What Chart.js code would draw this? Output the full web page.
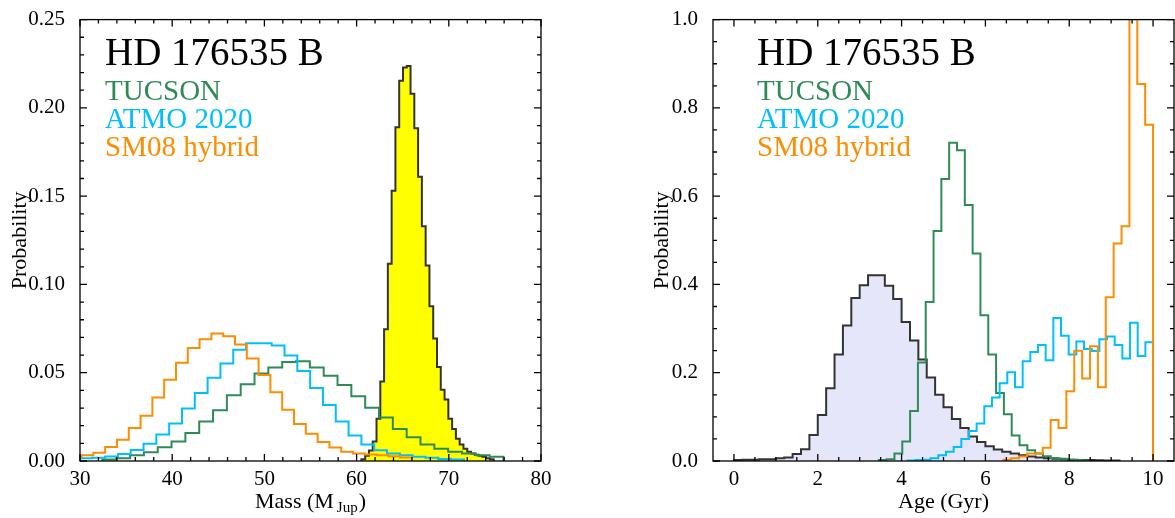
<!DOCTYPE html>
<html>
<head>
<meta charset="utf-8">
<script src="https://cdn.jsdelivr.net/npm/chart.js@4"></script>
<style>
  body { margin: 0; background: #fff; }
  canvas { position: absolute; top: 0; }
</style>
</head>
<body>
<canvas id="massChart" width="560" height="518" style="left:0"></canvas>
<canvas id="ageChart" width="555" height="518" style="left:620px"></canvas>
<script>
// labels
const objectName = "HD 176535 B";
const modelNames = ["TUCSON", "ATMO 2020", "SM08 hybrid"];
const modelColors = ["#2E8B57", "#00BFFF", "#FF8C00"];

// tick labels
const massTicks = [30, 40, 50, 60, 70, 80];
const massProbTicks = [0, 0.05, 0.1, 0.15, 0.2, 0.25];
const ageTicks = [0, 2, 4, 6, 8, 10];
const ageProbTicks = [0, 0.2, 0.4, 0.6, 0.8, 1.0];

// mass histograms (M_Jup): first bin edge, bin width, probabilities
const dynMassStart = 60.52, dynMassWidth = 0.41;
const dynMass = [0.001, 0.003, 0.006, 0.011, 0.024, 0.045, 0.0746, 0.1117, 0.153, 0.189,
  0.2154, 0.2228, 0.2237, 0.208, 0.1885, 0.161, 0.133, 0.1107, 0.0876, 0.0694,
  0.0533, 0.0404, 0.0348, 0.024, 0.0181, 0.0126, 0.0094, 0.007, 0.0052, 0.0043,
  0.0036, 0.003, 0.0024, 0.0015, 0.001];

const tucsonMassStart = 32.43, tucsonMassWidth = 1.5;
const tucsonMass = [0.0008, 0.0015, 0.0033, 0.005, 0.0078, 0.011, 0.0159, 0.0224, 0.0287, 0.0372,
  0.0435, 0.0496, 0.053, 0.0561, 0.0565, 0.053, 0.0483, 0.0431, 0.0367, 0.0302,
  0.0246, 0.0181, 0.0135, 0.0093, 0.007, 0.0052, 0.0043, 0.0033, 0.0024];

const atmoMassStart = 29.94, atmoMassWidth = 1.39;
const atmoMass = [0.0015, 0.0018, 0.0026, 0.0039, 0.0063, 0.0098, 0.015, 0.0213, 0.0298, 0.0385,
  0.0472, 0.0552, 0.063, 0.0667, 0.0667, 0.0654, 0.0598, 0.051, 0.0413, 0.0317,
  0.0224, 0.0144, 0.0094, 0.0061, 0.0043, 0.0033, 0.0024, 0.0019, 0.0012, 0.0008];

const sm08MassStart = 28.89, sm08MassWidth = 1.28;
const sm08Mass = [0.0022, 0.0033, 0.0047, 0.008, 0.012, 0.0187, 0.0256, 0.036, 0.046, 0.0557,
  0.064, 0.069, 0.0722, 0.0706, 0.066, 0.058, 0.0487, 0.039, 0.029, 0.021,
  0.0154, 0.0107, 0.0076, 0.0052, 0.0043, 0.0037, 0.0033, 0.0027, 0.002];

// age histograms (Gyr)
const agePriorStart = 0, agePriorWidth = 0.2;
const agePrior = [0.002, 0.003, 0.003, 0.004, 0.004, 0.006, 0.008, 0.0156, 0.0267, 0.059,
  0.104, 0.165, 0.241, 0.307, 0.369, 0.398, 0.421, 0.421, 0.397, 0.367,
  0.315, 0.273, 0.23, 0.189, 0.15, 0.122, 0.095, 0.075, 0.0556, 0.043,
  0.0333, 0.026, 0.0207, 0.017, 0.0133, 0.01, 0.008, 0.006, 0.005, 0.004,
  0.003, 0.002, 0.002, 0.0015, 0.001, 0.001];

const tucsonAgeStart = 3.457, tucsonAgeWidth = 0.1865;
const tucsonAge = [0.002, 0.004, 0.017, 0.044, 0.113, 0.223, 0.36, 0.521, 0.639, 0.721,
  0.704, 0.58, 0.47, 0.33, 0.241, 0.154, 0.106, 0.058, 0.0356, 0.0244,
  0.017, 0.011, 0.007, 0.005, 0.003, 0.002, 0.001];

const atmoAgeStart = 4.144, atmoAgeWidth = 0.183;
const atmoAge = [0.001, 0.002, 0.003, 0.006, 0.013, 0.021, 0.032, 0.05, 0.068, 0.085,
  0.124, 0.144, 0.176, 0.201, 0.167, 0.226, 0.247, 0.263, 0.228, 0.324,
  0.284, 0.241, 0.271, 0.254, 0.249, 0.276, 0.282, 0.263, 0.232, 0.313,
  0.238, 0.269];

const sm08AgeStart = 6.428, sm08AgeWidth = 0.188;
const sm08Age = [0.003, 0.006, 0.01, 0.017, 0.017, 0.03, 0.093, 0.075, 0.158, 0.25,
  0.187, 0.26, 0.167, 0.371, 0.493, 0.532, 1.3, 0.854, 0.762];

const FONT = '"Liberation Serif", "Times New Roman", serif';

// step outline of a histogram, from baseline up and back down
function hist(start, width, vals) {
  const pts = [{ x: start, y: 0 }];
  vals.forEach((v, i) => pts.push({ x: start + i * width, y: v }));
  pts.push({ x: start + vals.length * width, y: 0 });
  return pts;
}

// "before": horizontal to the next edge, then vertical
function stepLine(data, color, order) {
  return { data: data, borderColor: color, borderWidth: 2, stepped: "before",
    pointRadius: 0, fill: false, order: order };
}

function stepFill(data, fillColor, order) {
  return { data: data, borderColor: "#333333", backgroundColor: fillColor, borderWidth: 2,
    stepped: "before", pointRadius: 0, fill: "origin", order: order };
}

// box round the plot and inward ticks on all four sides
const frame = {
  id: "frame",
  afterDatasetsDraw(chart, args, o) {
    const { ctx, chartArea: a } = chart;
    const xs = chart.scales.x, ys = chart.scales.y;
    ctx.save();
    ctx.strokeStyle = "#000";
    ctx.lineWidth = 1.3;
    ctx.beginPath();
    const markX = (v, len) => {
      const p = xs.getPixelForValue(v);
      ctx.moveTo(p, a.bottom); ctx.lineTo(p, a.bottom - len);
      ctx.moveTo(p, a.top); ctx.lineTo(p, a.top + len);
    };
    const markY = (v, len) => {
      const p = ys.getPixelForValue(v);
      ctx.moveTo(a.left, p); ctx.lineTo(a.left + len, p);
      ctx.moveTo(a.right, p); ctx.lineTo(a.right - len, p);
    };
    for (let k = 0; o.xFrom + k * o.xMinor <= o.xTo + 1e-9; k++) markX(o.xFrom + k * o.xMinor, 4);
    for (let k = 0; o.yFrom + k * o.yMinor <= o.yTo + 1e-9; k++) markY(o.yFrom + k * o.yMinor, 4);
    o.xMajor.forEach(v => markX(v, 7));
    o.yMajor.forEach(v => markY(v, 7));
    ctx.stroke();
    ctx.strokeRect(a.left, a.top, a.right - a.left, a.bottom - a.top);
    ctx.restore();
  }
};

// title, model names and axis titles
const texts = {
  id: "texts",
  afterDraw(chart, args, o) {
    const { ctx, chartArea: a } = chart;
    ctx.save();
    ctx.textAlign = "left";
    ctx.textBaseline = "alphabetic";
    ctx.fillStyle = "#000";
    ctx.font = "39px " + FONT;
    ctx.fillText(objectName, a.left + o.dx, 65);
    ctx.font = "29px " + FONT;
    modelNames.forEach((n, i) => {
      ctx.fillStyle = modelColors[i];
      ctx.fillText(n, a.left + o.dx, 100 + i * 28);
    });

    // x title, pieces may be subscript
    ctx.fillStyle = "#000";
    let total = 0;
    o.xTitle.forEach(p => { ctx.font = p.size + "px " + FONT; total += ctx.measureText(p.t).width + (p.gap || 0); });
    let x = (a.left + a.right) / 2 - total / 2;
    o.xTitle.forEach(p => {
      ctx.font = p.size + "px " + FONT;
      x += p.gap || 0;
      ctx.fillText(p.t, x, 508 + (p.dy || 0));
      x += ctx.measureText(p.t).width;
    });

    ctx.font = "22px " + FONT;
    ctx.translate(o.yTitleX, (a.top + a.bottom) / 2);
    ctx.rotate(-Math.PI / 2);
    ctx.textAlign = "center";
    ctx.fillText("Probability", 0, 0);
    ctx.restore();
  }
};

function options(c) {
  return {
    responsive: false,
    animation: false,
    layout: { padding: { top: 11, right: c.padRight, left: 0, bottom: 0 } },
    plugins: {
      legend: { display: false },
      tooltip: { enabled: false },
      frame: c.frame,
      texts: c.texts
    },
    scales: {
      x: {
        type: "linear", min: c.xMin, max: c.xMax,
        grid: { display: false },
        border: { display: false },
        afterFit: s => { s.height = 57; },
        afterBuildTicks: s => { s.ticks = c.xTicks.map(v => ({ value: v })); },
        ticks: { color: "#000", font: { family: FONT, size: 21 }, padding: -2,
          maxRotation: 0, autoSkip: false, callback: v => String(v) }
      },
      y: {
        min: c.yMin, max: c.yMax,
        grid: { display: false },
        border: { display: false },
        afterFit: s => { s.width = c.yWidth; },
        afterBuildTicks: s => { s.ticks = c.yTicks.map(v => ({ value: v })); },
        ticks: { color: "#000", font: { family: FONT, size: 21 }, padding: 7,
          callback: v => v.toFixed(c.yDigits) }
      }
    }
  };
}

new Chart(document.getElementById("massChart"), {
  type: "line",
  data: {
    datasets: [
      stepLine(hist(sm08MassStart, sm08MassWidth, sm08Mass), modelColors[2], 1),
      stepLine(hist(atmoMassStart, atmoMassWidth, atmoMass), modelColors[1], 2),
      stepLine(hist(tucsonMassStart, tucsonMassWidth, tucsonMass), modelColors[0], 3),
      stepFill(hist(dynMassStart, dynMassWidth, dynMass), "#FFFF00", 10)
    ]
  },
  options: options({
    padRight: 19, yWidth: 80, xMin: 30, xMax: 80, yMin: 0, yMax: 0.25,
    xTicks: massTicks, yTicks: massProbTicks, yDigits: 2,
    frame: { xFrom: 30, xTo: 80, xMinor: 2, yFrom: 0, yTo: 0.25, yMinor: 0.01,
      xMajor: massTicks, yMajor: massProbTicks },
    texts: { dx: 25, yTitleX: 26,
      xTitle: [{ t: "Mass (M", size: 22 }, { t: "Jup", size: 15, dy: 4, gap: 3 }, { t: ")", size: 22, gap: 1 }] }
  }),
  plugins: [frame, texts]
});

new Chart(document.getElementById("ageChart"), {
  type: "line",
  data: {
    datasets: [
      stepLine(hist(sm08AgeStart, sm08AgeWidth, sm08Age), modelColors[2], 1),
      stepLine(hist(atmoAgeStart, atmoAgeWidth, atmoAge), modelColors[1], 2),
      stepLine(hist(tucsonAgeStart, tucsonAgeWidth, tucsonAge), modelColors[0], 3),
      stepFill(hist(agePriorStart, agePriorWidth, agePrior), "#E6E6FA", 10)
    ]
  },
  options: options({
    padRight: 1, yWidth: 93, xMin: -0.5, xMax: 10.5, yMin: 0, yMax: 1,
    xTicks: ageTicks, yTicks: ageProbTicks, yDigits: 1,
    frame: { xFrom: 0, xTo: 10, xMinor: 0.5, yFrom: 0, yTo: 1, yMinor: 0.05,
      xMajor: ageTicks, yMajor: ageProbTicks },
    texts: { dx: 44, yTitleX: 48,
      xTitle: [{ t: "Age (Gyr)", size: 22 }] }
  }),
  plugins: [frame, texts]
});
</script>
</body>
</html>
